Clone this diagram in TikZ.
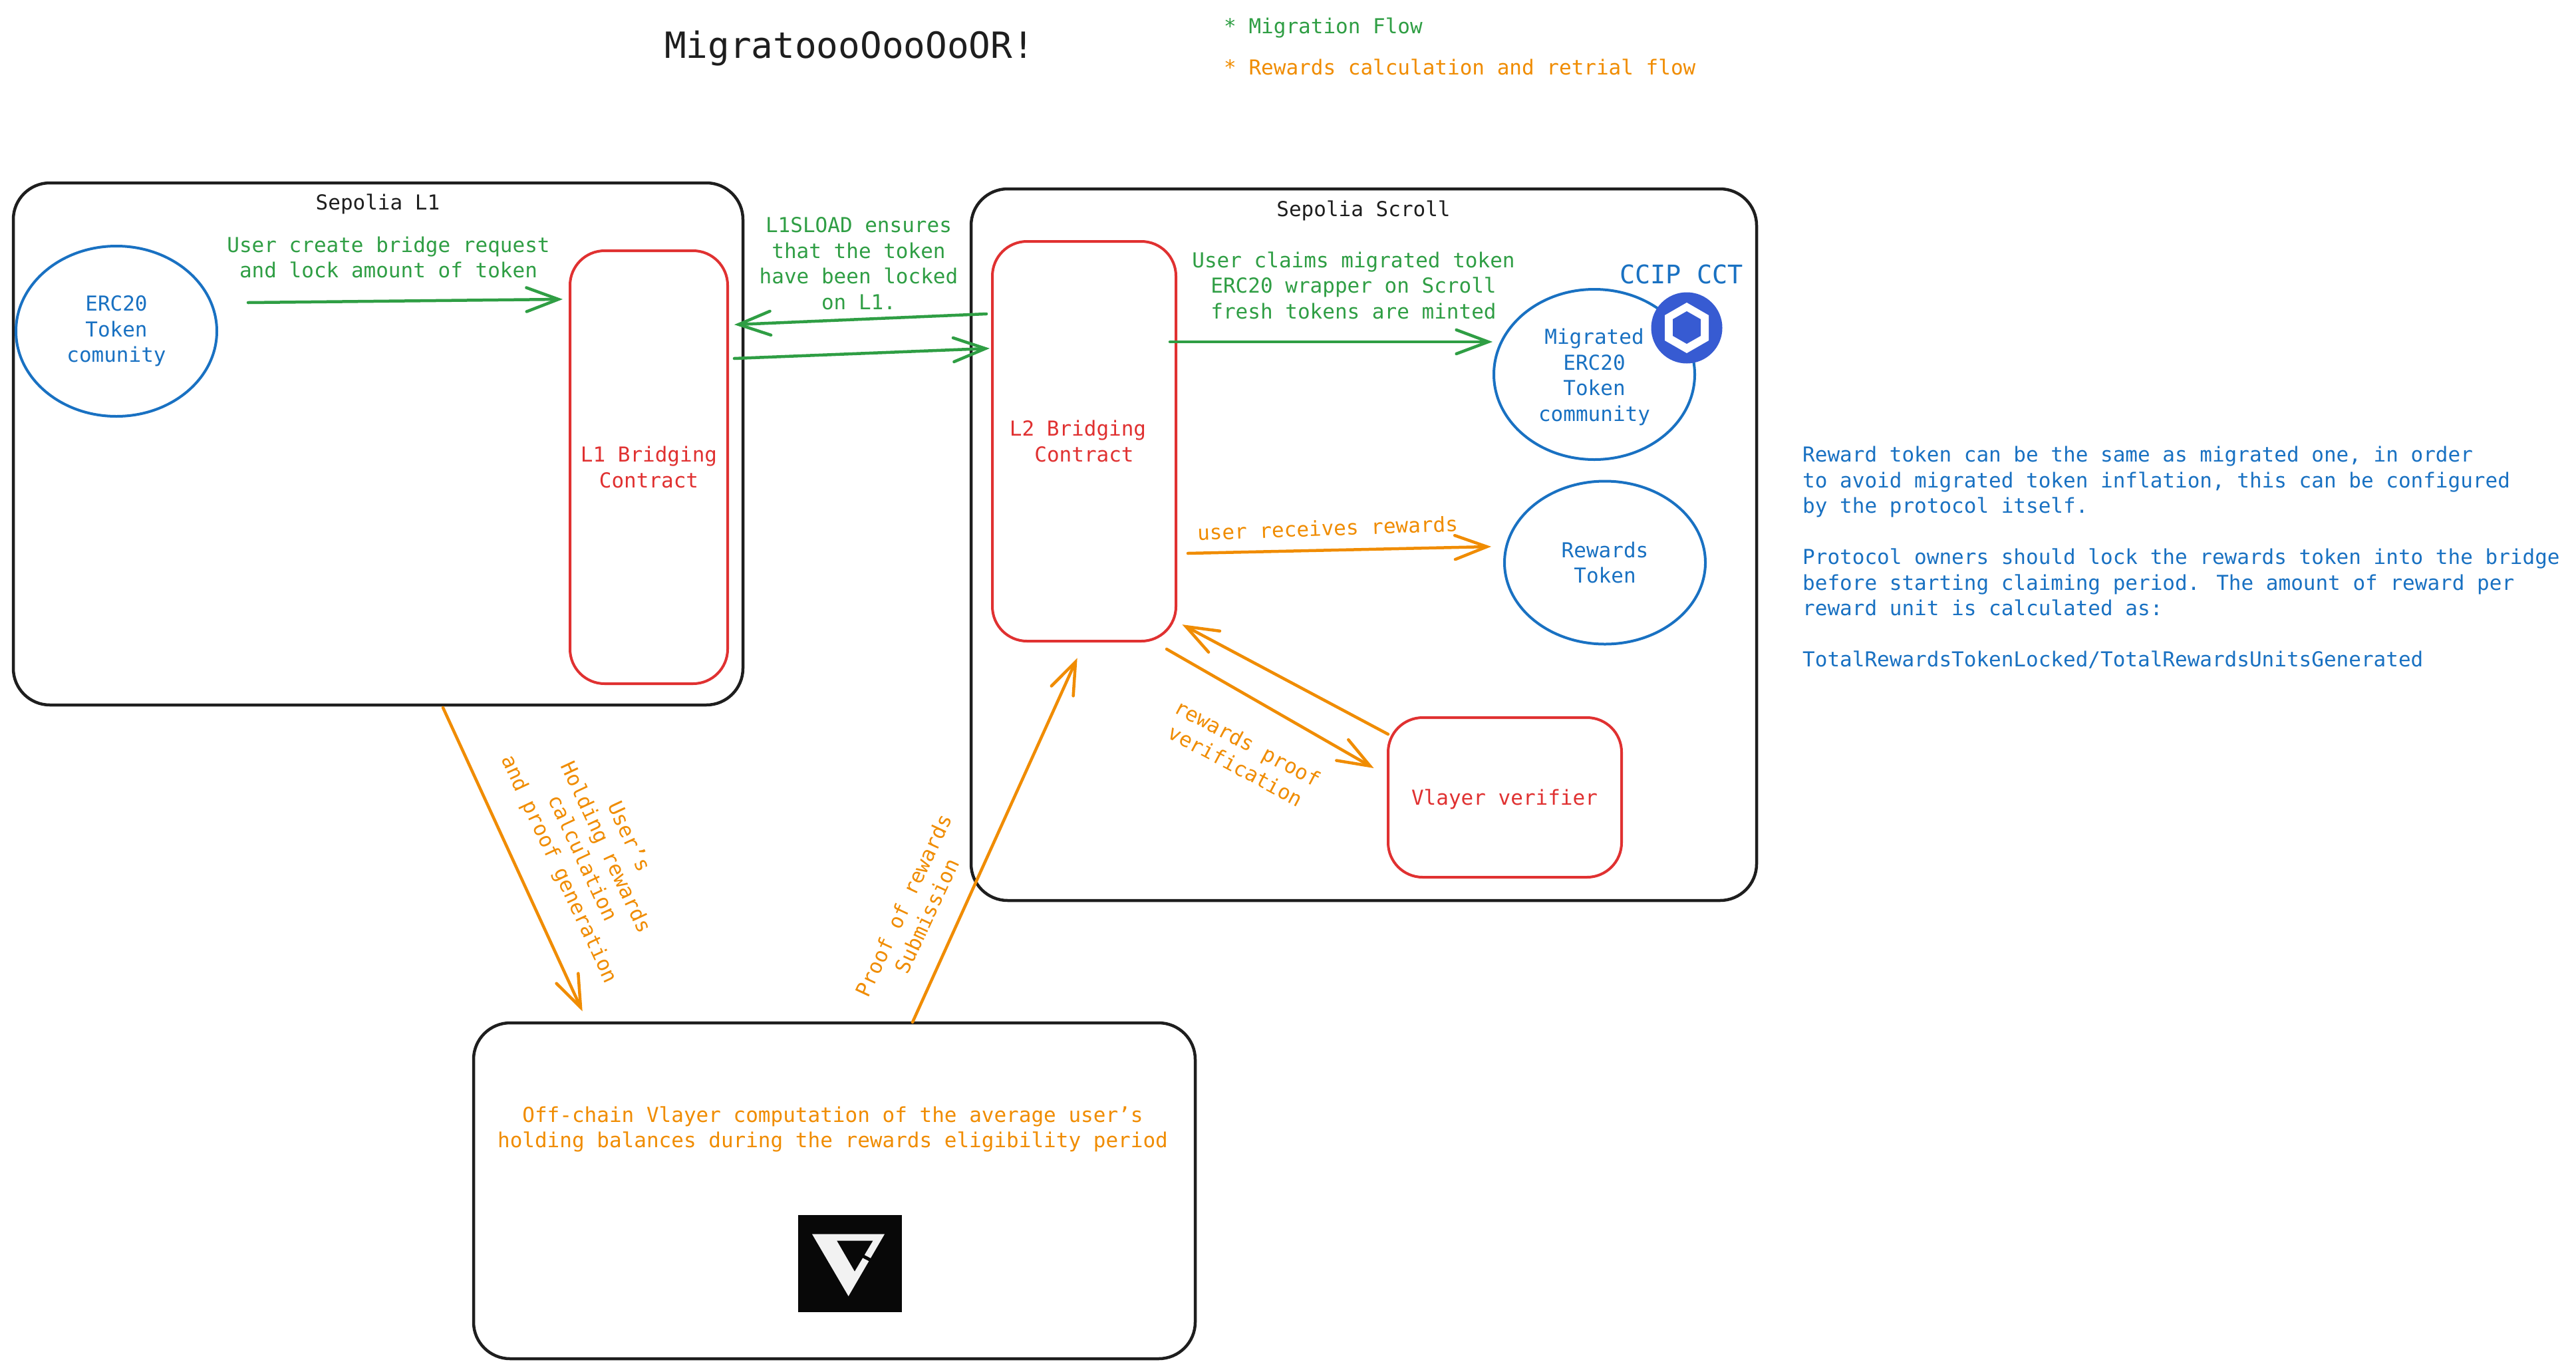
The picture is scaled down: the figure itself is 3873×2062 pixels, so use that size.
\documentclass[tikz,border=0pt]{standalone}
\usepackage{fontspec}
\setmainfont{DejaVu Sans Mono}
\usetikzlibrary{arrows.meta,shapes.geometric}
\definecolor{cblack}{HTML}{1E1E1E}
\definecolor{cgreen}{HTML}{2F9E44}
\definecolor{corange}{HTML}{F08C00}
\definecolor{cred}{HTML}{E03131}
\definecolor{cblue}{HTML}{1971C2}
\definecolor{clink}{HTML}{375BD2}
\tikzset{
  txt/.style={inner sep=0pt,align=center,font=\fontsize{31}{38.5}\selectfont},
  gtxt/.style={txt,text=cgreen},
  otxt/.style={txt,text=corange},
  btxt/.style={txt,text=cblue},
  ktxt/.style={txt,text=cblack},
  rtxt/.style={txt,text=cred},
  group/.style={draw=cblack,line width=4.5pt,rounded corners=55pt,rectangle,inner sep=0pt,outer sep=0pt,anchor=north west},
  contract/.style={draw=cred,line width=4pt,rounded corners=52pt,rectangle,inner sep=0pt,outer sep=0pt,anchor=north west,text=cred,align=center,font=\fontsize{31}{38.5}\selectfont},
  token/.style={draw=cblue,line width=4pt,ellipse,inner sep=0pt,outer sep=0pt,minimum width=302pt,minimum height=256pt,text=cblue,align=center,font=\fontsize{31}{38.5}\selectfont},
  garrow/.style={draw=cgreen,line width=4.5pt,line cap=round,shorten >=-4pt,-{Straight Barb[length=48pt,width=36pt,line cap=round]}},
  oarrow/.style={garrow,draw=corange},
}
\begin{document}
\begin{tikzpicture}[x=1pt,y=-1pt]
\useasboundingbox (0,0) rectangle (3873,2062);
\fill[white] (0,0) rectangle (3873,2062);

% title and legend
\node[ktxt,font=\fontsize{54.3}{60}\selectfont] (title) at (1277,73) {MigratoooOooOoOR!};
\node[gtxt,anchor=west] (leg1) at (1840,42) {* Migration Flow};
\node[otxt,anchor=west] (leg2) at (1840,101) {* Rewards calculation and retrial flow};

% group boxes
\node[group,minimum width=1097pt,minimum height=785pt] (l1box) at (20,275) {};
\node[group,minimum width=1181pt,minimum height=1070pt] (scroll) at (1460,284) {};
\node[group,minimum width=1085pt,minimum height=505pt] (off) at (712,1538) {};
\node[ktxt] (l1title) at (568,307) {Sepolia L1};
\node[ktxt] (scrolltitle) at (2050,317) {Sepolia Scroll};

% contracts and tokens
\node[contract,minimum width=237pt,minimum height=651pt] (l1c) at (857,377) {L1 Bridging\\Contract};
\node[contract,minimum width=276pt,minimum height=601pt] (l2c) at (1492,363) {L2 Bridging\hspace*{19pt}\\Contract};
\node[contract,minimum width=351pt,minimum height=240pt] (verifier) at (2087,1079) {};
\node[rtxt] (verifiertxt) at (2262,1202) {Vlayer verifier};
\node[token] (erc) at (175,498) {ERC20\\Token\\comunity};
\node[token] (migrated) at (2397,563) {};
\node[btxt] (migratedtxt) at (2397,567) {Migrated\\ERC20\\Token\\community};
\node[token,minimum height=245pt] (rewards) at (2413,846) {Rewards\\Token};

% CCIP logo
\node[btxt,font=\fontsize{38.5}{44}\selectfont] (ccip) at (2528,412) {CCIP CCT};
\fill[clink] (2536,493) circle (53.5);
\fill[white] (2536,455) -- (2569,474) -- (2569,512) -- (2536,531) -- (2503,512) -- (2503,474) -- cycle;
\fill[clink] (2536,468) -- (2557,480) -- (2557,505) -- (2536,517) -- (2515,505) -- (2515,480) -- cycle;

% Vlayer logo
\node[otxt] (offtxt) at (1252,1698) {Off-chain Vlayer computation of the average user's\\holding balances during the rewards eligibility period};
\begin{scope}[shift={(1150,1780)},x=0.3333pt,y=-0.3333pt]
\fill[black!97!white] (150,140) rectangle (617,578);
\fill[white!95!black] (213,227) -- (540,227) -- (377,507) -- cycle;
\fill[black!97!white] (325,257) -- (487,257) -- (405,395) -- cycle;
\draw[black!97!white,line width=5pt] (440,325) -- (492,352);
\end{scope}

% end points of connectors
\coordinate (a1s) at (373,455); \coordinate (a1e) at (842,450);
\coordinate (a2s) at (1483,472); \coordinate (a2e) at (1108,488);
\coordinate (a3s) at (1104,539); \coordinate (a3e) at (1484,524);
\coordinate (a4s) at (1759,514); \coordinate (a4e) at (2240,514);
\coordinate (a5s) at (1786,832); \coordinate (a5e) at (2238,822);
\coordinate (a6s) at (2087,1104); \coordinate (a6e) at (1781,941);
\coordinate (a7s) at (1754,976); \coordinate (a7e) at (2062,1153);
\coordinate (a8s) at (666,1064); \coordinate (a8e) at (874,1517);
\coordinate (a9s) at (1372,1537); \coordinate (a9e) at (1618,993);

\draw[garrow] (a1s) -- (a1e);
\draw[garrow] (a2s) -- (a2e);
\draw[garrow] (a3s) -- (a3e);
\draw[garrow] (a4s) -- (a4e);
\draw[oarrow] (a5s) -- (a5e);
\draw[oarrow] (a6s) -- (a6e);
\draw[oarrow] (a7s) -- (a7e);
\draw[oarrow] (a8s) -- (a8e);
\draw[oarrow] (a9s) -- (a9e);

% connector labels
\node[gtxt] (l1) at (584,387) {User create bridge request\\and lock amount of token};
\node[gtxt] (l2) at (1291,396) {L1SLOAD ensures\\that the token\\have been locked\\on L1.};
\node[gtxt] (l3) at (2035,429) {User claims migrated token\\ERC20 wrapper on Scroll\\fresh tokens are minted};
\node[otxt,rotate=2] (l4) at (1996,794) {user receives rewards};
\node[otxt,rotate=-28] (l5) at (1867,1134) {rewards proof\\verification};
\node[otxt,rotate=-65] (l6) at (892,1283) {User's\\Holding rewards\\calculation\\and proof generation};
\node[otxt,rotate=65] (l7) at (1376,1369) {Proof of rewards\\Submission};

% side note
\node[btxt,align=left,anchor=north west] (note) at (2710,671) {Reward token can be the same as migrated one, in order\\to avoid migrated token inflation, this can be configured\\by the protocol itself.\\\mbox{}\\Protocol owners should lock the rewards token into the bridge\\before starting claiming period. The amount of reward per\\reward unit is calculated as:\\\mbox{}\\TotalRewardsTokenLocked/TotalRewardsUnitsGenerated};
\end{tikzpicture}
\end{document}
